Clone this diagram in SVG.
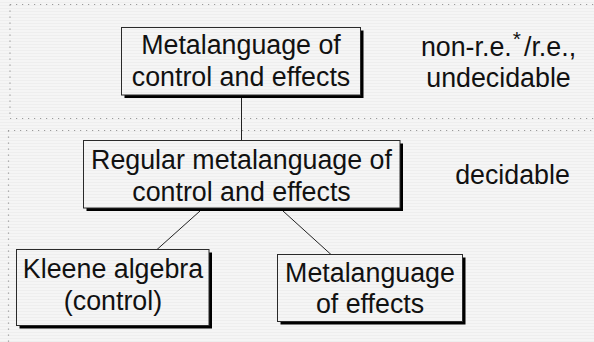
<svg xmlns="http://www.w3.org/2000/svg" width="594" height="342" viewBox="0 0 594 342">
  <defs>
    <pattern id="bg" x="0" y="0" width="8" height="3" patternUnits="userSpaceOnUse">
      <rect width="8" height="3" fill="#f5f5f5"/>
      <rect y="2" width="8" height="1" fill="#eeeeee"/>
    </pattern>
  </defs>
  <style>
    .dot { stroke: #9a9a9a; stroke-width: 1.2; stroke-dasharray: 1.2 4.8; fill: none; }
    .shadow { fill: #000; }
    .box { fill: url(#bg); stroke: #2a2a2a; stroke-width: 1; }
    .edge { stroke: #222; stroke-width: 1; fill: none; }
    text { font-family: "Liberation Sans", Arial, sans-serif; font-size: 26.8px; fill: #111; text-anchor: middle; }
  </style>
  <rect width="594" height="342" fill="url(#bg)"/>

  <g id="regions">
    <path class="dot" d="M10 4.5 H594 M10 4.5 V118 M10 118.5 H594"/>
    <path class="dot" d="M8 130.5 H594 M8.5 130.5 V342"/>
  </g>

  <g id="connectors">
    <line class="edge" x1="241.5" y1="97" x2="241.5" y2="141"/>
    <line class="edge" x1="200" y1="211" x2="157" y2="249.5"/>
    <line class="edge" x1="283" y1="211" x2="331" y2="254.5"/>
  </g>

  <g id="node-metalanguage">
    <rect class="shadow" x="124.5" y="30.5" width="239" height="67.5"/>
    <rect class="box" x="121.5" y="27.5" width="239" height="67.5"/>
    <text x="241" y="54">Metalanguage of</text>
    <text x="241" y="86">control and effects</text>
  </g>

  <g id="node-regular">
    <rect class="shadow" x="86.5" y="143.5" width="316.5" height="67.5"/>
    <rect class="box" x="83.5" y="140.5" width="316.5" height="67.5"/>
    <text x="241.5" y="169">Regular metalanguage of</text>
    <text x="241.5" y="200.5">control and effects</text>
  </g>

  <g id="node-kleene">
    <rect class="shadow" x="19.5" y="252.5" width="192.5" height="76"/>
    <rect class="box" x="16.5" y="249.5" width="192.5" height="76"/>
    <text x="113" y="278">Kleene algebra</text>
    <text x="113" y="310">(control)</text>
  </g>

  <g id="node-effects">
    <rect class="shadow" x="280.5" y="257.5" width="185" height="67"/>
    <rect class="box" x="277.5" y="254.5" width="185" height="67"/>
    <text x="370" y="282">Metalanguage</text>
    <text x="370" y="313">of effects</text>
  </g>

  <g id="label-undecidable">
    <text x="498.5" y="56">non-r.e.<tspan font-size="21" dx="1" dy="-10">*</tspan><tspan dx="3" dy="10">/</tspan>r.e.,</text>
    <text x="498.5" y="87">undecidable</text>
  </g>

  <g id="label-decidable">
    <text x="512.5" y="184">decidable</text>
  </g>
</svg>
